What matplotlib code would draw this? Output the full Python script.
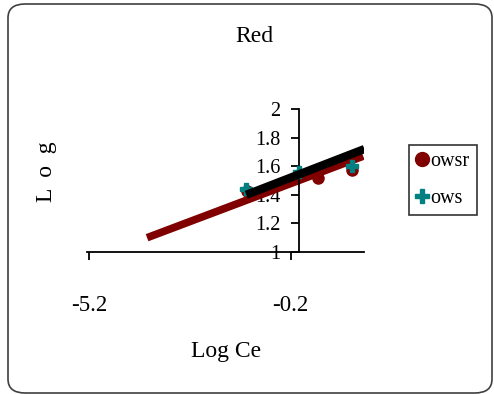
import matplotlib
matplotlib.use("Agg")
import matplotlib.pyplot as plt
from matplotlib.patches import FancyBboxPatch
from matplotlib.lines import Line2D

# data
owsr_x = [-1.29, 0.47, 1.33]
owsr_y = [1.43, 1.52, 1.57]
ows_x = [-1.31, 0.0, 1.33]
ows_y = [1.44, 1.56, 1.60]
owsr_fit_x = [-3.76, 1.6]
owsr_fit_y = [1.10, 1.67]
ows_fit_x = [-1.30, 1.63]
ows_fit_y = [1.40, 1.72]
xticks = [-5.2, -0.2]
yticks = [1, 1.2, 1.4, 1.6, 1.8, 2]
ytick_labels = ["1", "1.2", "1.4", "1.6", "1.8", "2"]

plt.rcParams['font.family'] = ['Liberation Serif', 'DejaVu Serif']
W, H = 494, 394
fig = plt.figure(figsize=(W/100, H/100), dpi=100)

border = FancyBboxPatch((8/W, 1/H), 484/W, 389/H,
                        boxstyle="round,pad=0,rounding_size=0.035",
                        transform=fig.transFigure, fill=False,
                        edgecolor='#404040', linewidth=1.2)
fig.patches.append(border)

ax = fig.add_axes([87/W, 1-252/H, 277/W, 143/H])
ax.set_facecolor('none')
ax.set_xlim(-5.25, 1.62)
ax.set_ylim(1, 2)

ax.plot(owsr_fit_x, owsr_fit_y, color='#800000', linewidth=5.5, solid_capstyle='butt', zorder=2)
ax.plot(owsr_x, owsr_y, 'o', color='#800000', markersize=8, zorder=3)
ax.plot(ows_x, ows_y, 'P', color='#008080', markersize=9, zorder=3)
ax.plot(ows_fit_x, ows_fit_y, color='black', linewidth=6, solid_capstyle='butt', zorder=4)

ax.spines['top'].set_visible(False)
ax.spines['right'].set_visible(False)
ax.spines['left'].set_position(('data', 0))
ax.spines['bottom'].set_position(('data', 1))
for s in ('left', 'bottom'):
    ax.spines[s].set_linewidth(1.3)
ax.set_xticks(xticks)
ax.set_xticklabels([str(v) for v in xticks])
ax.set_yticks(yticks)
ax.set_yticklabels(ytick_labels)
ax.tick_params(axis='both', direction='out', length=6, width=1.3, colors='black')
ax.tick_params(axis='x', pad=25, labelsize=16.5)
ax.tick_params(axis='y', pad=7, labelsize=14.5)

fig.text(254/W, 1-37/H, "Red", ha='center', va='center', fontsize=17)
fig.text(226/W, 1-352/H, "Log Ce", ha='center', va='center', fontsize=17)
fig.text(46/W, 1-172/H, "L  o  g", ha='center', va='center', rotation=90, fontsize=17)

handles = [Line2D([], [], marker='o', color='#800000', linestyle='none', markersize=10),
           Line2D([], [], marker='P', color='#008080', linestyle='none', markersize=10)]
leg = fig.legend(handles, ['owsr', 'ows'], loc='center', bbox_to_anchor=(443/W, 1-180/H),
                 fontsize=14.5, frameon=True, fancybox=False, edgecolor='black',
                 handlelength=0.6, handletextpad=0.1, borderpad=0.35, labelspacing=0.85)
leg.get_frame().set_linewidth(1.2)

fig.savefig("out.png", dpi=100)
